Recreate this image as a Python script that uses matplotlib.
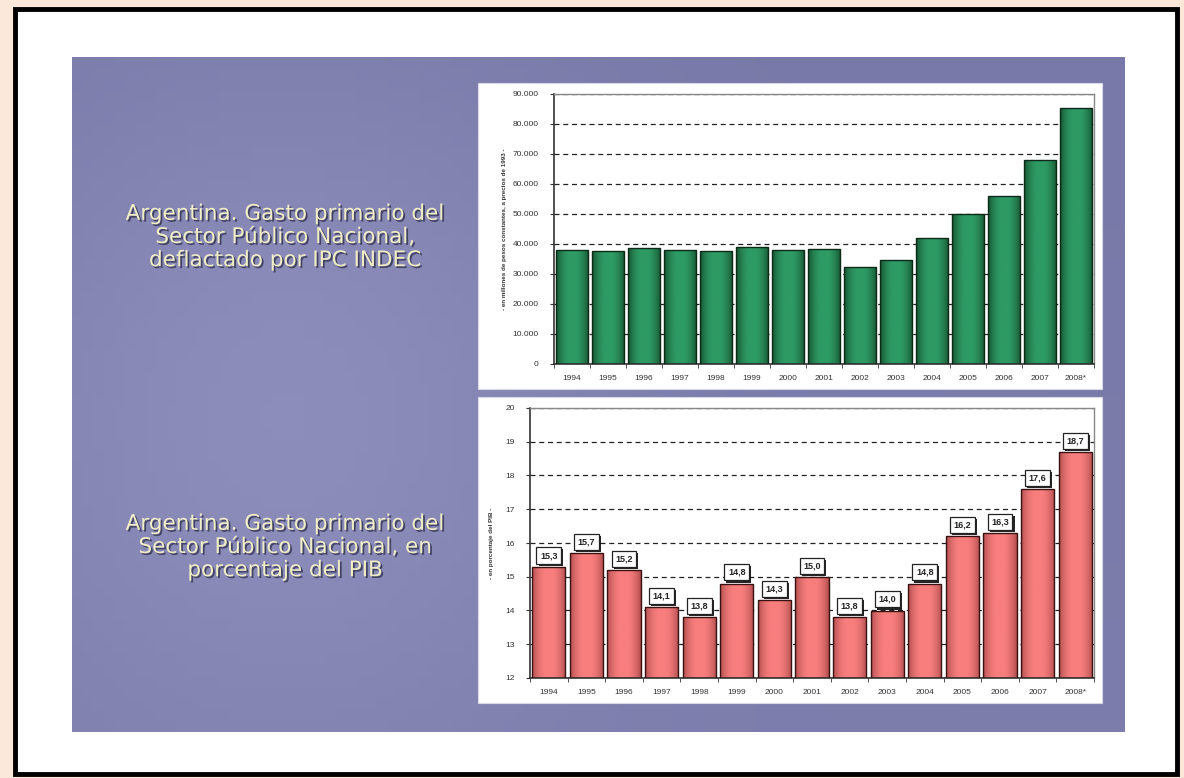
import numpy as np
import matplotlib
matplotlib.use("Agg")
import matplotlib.pyplot as plt
import matplotlib.patheffects as pe
from matplotlib.patches import Rectangle
from matplotlib.colors import LinearSegmentedColormap
from matplotlib.ticker import FuncFormatter, MultipleLocator

plt.rcParams['font.family'] = ['Liberation Sans', 'DejaVu Sans']

years = ['1994', '1995', '1996', '1997', '1998', '1999', '2000', '2001',
         '2002', '2003', '2004', '2005', '2006', '2007', '2008*']
# millones de pesos constantes de 1993
gasto_real = [38100, 37500, 38600, 38100, 37600, 38900, 37900, 38400,
              32400, 34800, 42000, 49900, 55900, 68100, 85300]
# % del PIB
gasto_pib = [15.3, 15.7, 15.2, 14.1, 13.8, 14.8, 14.3, 15.0,
             13.8, 14.0, 14.8, 16.2, 16.3, 17.6, 18.7]

title_top = "Argentina. Gasto primario del\nSector Público Nacional,\ndeflactado por IPC INDEC"
title_bot = "Argentina. Gasto primario del\nSector Público Nacional, en\nporcentaje del PIB"
ylab_top = "- en millones de pesos constantes, a precios de 1993 -"
ylab_bot = "- en porcentaje del PIB -"

W, H = 1184, 778
fig = plt.figure(figsize=(W / 100, H / 100), dpi=100)
fig.patch.set_facecolor('#fbe8da')

# background in pixel coords
bg = fig.add_axes([0, 0, 1, 1], zorder=0)
bg.set_xlim(0, W)
bg.set_ylim(H, 0)
bg.axis('off')
bg.add_patch(Rectangle((15, 9), 1162, 765, facecolor='white', edgecolor='black', lw=3.5))

# purple slide with a soft gradient
yy, xx = np.mgrid[0:1:60j, 0:1:100j]
shade = 0.45 * np.exp(-((xx - 0.2) ** 2 / 0.1 + (yy - 0.5) ** 2 / 0.3)) + 0.1 * yy
purple = LinearSegmentedColormap.from_list('p', ['#7979a9', '#8d8dbb'])
bg.imshow(shade, cmap=purple, extent=[72, 1125, 732, 57], aspect='auto', zorder=1)
bg.set_xlim(0, W)
bg.set_ylim(H, 0)

for x0, y0, x1, y1 in [(478, 83, 1102, 389), (478, 397, 1102, 703)]:
    bg.add_patch(Rectangle((x0, y0), x1 - x0, y1 - y0, facecolor='white',
                           edgecolor='#d8d8e4', lw=0.8, zorder=2))

shadow = [pe.SimplePatchShadow(offset=(1.3, -1.3), shadow_rgbFace='#262640', alpha=0.7), pe.Normal()]
for ty, txt in [(237, title_top), (547, title_bot)]:
    bg.text(285, ty, txt, ha='center', va='center', fontsize=15.5, color='#f0eec6',
            family=['DejaVu Sans'], linespacing=1.2, path_effects=shadow, zorder=3)


def px_axes(l, t, r, b):
    return fig.add_axes([l / W, 1 - b / H, (r - l) / W, (b - t) / H], zorder=5)


def shade_bars(ax, bars, dark, light):
    cmap = LinearSegmentedColormap.from_list('c', [dark, light])
    prof = np.sin(np.linspace(0.05, np.pi - 0.05, 64)) ** 0.6
    prof = np.clip(prof * 1.2 - 0.15, 0, 1)[None, :]
    for b in bars:
        x, y0, w, h = b.get_x(), b.get_y(), b.get_width(), b.get_height()
        im = ax.imshow(prof, cmap=cmap, extent=[x, x + w, y0, y0 + h], aspect='auto',
                       vmin=0, vmax=1, zorder=2)
        im.set_clip_path(b)


def style_axes(ax):
    ax.set_xlim(-0.5, len(years) - 0.5)
    ax.set_xticks(range(len(years)))
    ax.set_xticklabels(years, fontsize=6, color='#333333')
    ax.set_xticks(np.arange(-0.5, len(years), 1), minor=True)
    ax.tick_params(axis='x', which='major', length=0, pad=8)
    ax.tick_params(axis='x', which='minor', length=3, color='#333333')
    ax.tick_params(axis='y', length=3, color='#333333', labelsize=6, labelcolor='#333333', pad=8)
    for s in ['top', 'right']:
        ax.spines[s].set_color('#888888')
        ax.spines[s].set_linewidth(1.0)
    for s in ['left', 'bottom']:
        ax.spines[s].set_color('#333333')
        ax.spines[s].set_linewidth(1.2)
    ax.yaxis.grid(True, linestyle=(0, (4, 3)), color='#222222', lw=0.9)
    ax.set_axisbelow(True)


x = np.arange(len(years))

# top chart
ax1 = px_axes(554, 94, 1094, 364)
bars1 = ax1.bar(x, gasto_real, width=0.9, color='none', edgecolor='#0d2a18', lw=1.0, zorder=3)
shade_bars(ax1, bars1, '#124a2a', '#2e9a64')
ax1.set_ylim(0, 90000)
ax1.yaxis.set_major_locator(MultipleLocator(10000))
ax1.yaxis.set_major_formatter(FuncFormatter(lambda v, p: f"{v:,.0f}".replace(",", ".")))
style_axes(ax1)
ax1.set_ylabel(ylab_top, fontsize=4.5, fontweight='bold', color='#333333', labelpad=4)

# bottom chart, bars start at the axis floor
ymin2 = 12
ax2 = px_axes(530, 408, 1094, 678)
bars2 = ax2.bar(x, np.array(gasto_pib) - ymin2, bottom=ymin2, width=0.88, color='none',
                edgecolor='#3a1212', lw=1.0, zorder=3)
shade_bars(ax2, bars2, '#a84848', '#f87e7e')
ax2.set_ylim(ymin2, 20)
ax2.yaxis.set_major_locator(MultipleLocator(1))
style_axes(ax2)
ax2.set_ylabel(ylab_bot, fontsize=4.5, fontweight='bold', color='#333333', labelpad=8)

box_shadow = [pe.SimplePatchShadow(offset=(1.5, -1.5), shadow_rgbFace='black', alpha=0.85), pe.Normal()]
for xi, v in zip(x, gasto_pib):
    t = ax2.annotate(f"{v:.1f}".replace(".", ","), (xi, v), xytext=(0, 8), textcoords='offset points',
                     ha='center', va='center', fontsize=6.5, fontweight='bold', color='#222222', zorder=6,
                     bbox=dict(boxstyle='square,pad=0.4', fc='white', ec='#222222', lw=0.9))
    t.get_bbox_patch().set_path_effects(box_shadow)

fig.savefig('out.png', dpi=100, facecolor=fig.get_facecolor())
